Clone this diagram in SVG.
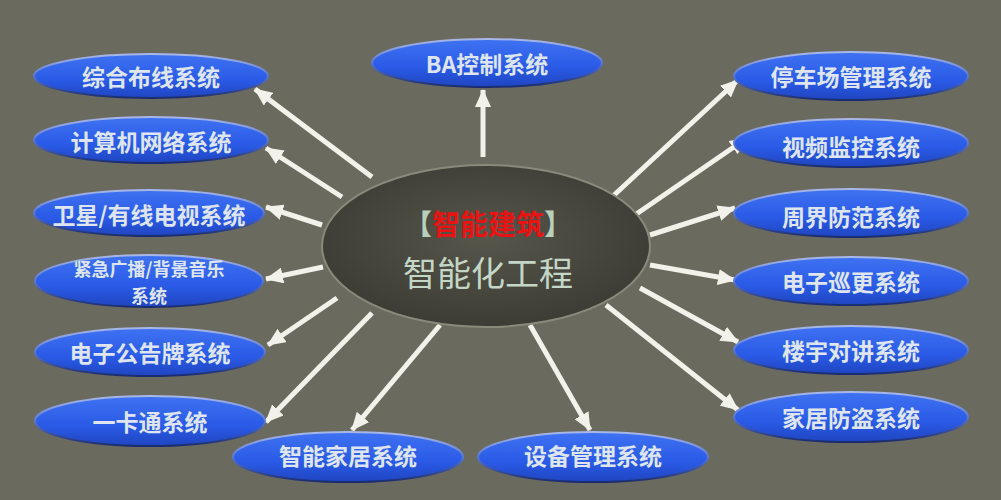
<svg xmlns="http://www.w3.org/2000/svg" width="1001" height="500" viewBox="0 0 1001 500">
<defs>
<linearGradient id="nodeFill" x1="0" y1="0" x2="0" y2="1">
<stop offset="0" stop-color="#3f72f2"/>
<stop offset="0.6" stop-color="#2a5ae6"/>
<stop offset="1" stop-color="#1f45c0"/>
</linearGradient>
<linearGradient id="nodeStroke" x1="0" y1="0" x2="0" y2="1">
<stop offset="0" stop-color="#a8b8e8"/>
<stop offset="0.5" stop-color="#5a78d0"/>
<stop offset="1" stop-color="#1a2c70"/>
</linearGradient>
<radialGradient id="hubFill" cx="0.5" cy="0.45" r="0.6">
<stop offset="0" stop-color="#56564b"/>
<stop offset="1" stop-color="#3a3a33"/>
</radialGradient>
<marker id="arr" viewBox="0 0 18 16" refX="17" refY="8" markerWidth="18" markerHeight="16" markerUnits="userSpaceOnUse" orient="auto">
<path d="M0,0 L18,8 L0,16 Z" fill="#f2f2ea"/>
</marker>
</defs>
<style>
.node ellipse{fill:url(#nodeFill);stroke:url(#nodeStroke);stroke-width:2}
.node text{font-family:"Noto Sans CJK SC","Noto Sans CJK JP",sans-serif;font-size:23px;font-weight:bold;fill:#dfe5f0;text-anchor:middle;dominant-baseline:central}
.conn line{stroke:#f2f2ea;stroke-width:5;marker-end:url(#arr)}
</style>
<rect x="0" y="0" width="1001" height="500" fill="#6b6a5f"/>
<g id="connectors" class="conn">
<line x1="483" y1="157" x2="483" y2="90"/>
<line x1="372" y1="177" x2="255" y2="89"/>
<line x1="342" y1="197" x2="266" y2="148"/>
<line x1="322" y1="225" x2="266" y2="207"/>
<line x1="323" y1="267" x2="266" y2="279"/>
<line x1="337" y1="298" x2="268" y2="345"/>
<line x1="372" y1="313" x2="266" y2="422"/>
<line x1="440" y1="325" x2="352" y2="430"/>
<line x1="530" y1="325" x2="590" y2="430"/>
<line x1="612" y1="197" x2="738" y2="80"/>
<line x1="632" y1="217" x2="747" y2="138"/>
<line x1="650" y1="235" x2="735" y2="208"/>
<line x1="650" y1="265" x2="735" y2="280"/>
<line x1="640" y1="288" x2="738" y2="342"/>
<line x1="606" y1="305" x2="738" y2="410"/>
</g>
<g id="hub">
<ellipse cx="486" cy="246" rx="164" ry="81" fill="url(#hubFill)" stroke="#8a8a7c" stroke-width="2"/>
<text x="488" y="223" font-family="Noto Sans CJK SC, sans-serif" font-size="28" font-weight="bold" text-anchor="middle" dominant-baseline="central"><tspan fill="#b8d0bc">【</tspan><tspan fill="#e81414">智能建筑</tspan><tspan fill="#b8d0bc">】</tspan></text>
<text x="488" y="271" font-family="Noto Sans CJK SC, sans-serif" font-size="34" fill="#c4d6c6" text-anchor="middle" dominant-baseline="central">智能化工程</text>
</g>
<g id="n-ba" class="node"><ellipse cx="487" cy="63" rx="115" ry="24"/><text x="487" y="63">BA控制系统</text></g>
<g id="n-zhbx" class="node"><ellipse cx="151" cy="76" rx="117" ry="22"/><text x="151" y="76">综合布线系统</text></g>
<g id="n-jsj" class="node"><ellipse cx="151" cy="140" rx="117" ry="23"/><text x="151" y="141">计算机网络系统</text></g>
<g id="n-wx" class="node"><ellipse cx="149" cy="213" rx="115" ry="23"/><text x="149" y="214">卫星/有线电视系统</text></g>
<g id="n-jjgb" class="node"><ellipse cx="149" cy="281" rx="114" ry="26"/><text x="149" y="268" style="font-size:18px">紧急广播/背景音乐</text><text x="149" y="295" style="font-size:18px">系统</text></g>
<g id="n-dzgg" class="node"><ellipse cx="150" cy="352" rx="115" ry="24"/><text x="150" y="352">电子公告牌系统</text></g>
<g id="n-ykt" class="node"><ellipse cx="150" cy="421" rx="115" ry="25"/><text x="150" y="421">一卡通系统</text></g>
<g id="n-znjj" class="node"><ellipse cx="348" cy="457" rx="115" ry="25"/><text x="348" y="455">智能家居系统</text></g>
<g id="n-sbgl" class="node"><ellipse cx="593" cy="457" rx="115" ry="25"/><text x="593" y="455">设备管理系统</text></g>
<g id="n-tcc" class="node"><ellipse cx="851" cy="76" rx="117" ry="24"/><text x="851" y="76">停车场管理系统</text></g>
<g id="n-spjk" class="node"><ellipse cx="851" cy="143" rx="117" ry="24"/><text x="851" y="146">视频监控系统</text></g>
<g id="n-zjff" class="node"><ellipse cx="851" cy="213" rx="117" ry="24"/><text x="851" y="216">周界防范系统</text></g>
<g id="n-dzxg" class="node"><ellipse cx="851" cy="281" rx="117" ry="24"/><text x="851" y="281">电子巡更系统</text></g>
<g id="n-lydj" class="node"><ellipse cx="851" cy="350" rx="117" ry="24"/><text x="851" y="350">楼宇对讲系统</text></g>
<g id="n-jjfd" class="node"><ellipse cx="851" cy="417" rx="117" ry="25"/><text x="851" y="417">家居防盗系统</text></g>
</svg>
